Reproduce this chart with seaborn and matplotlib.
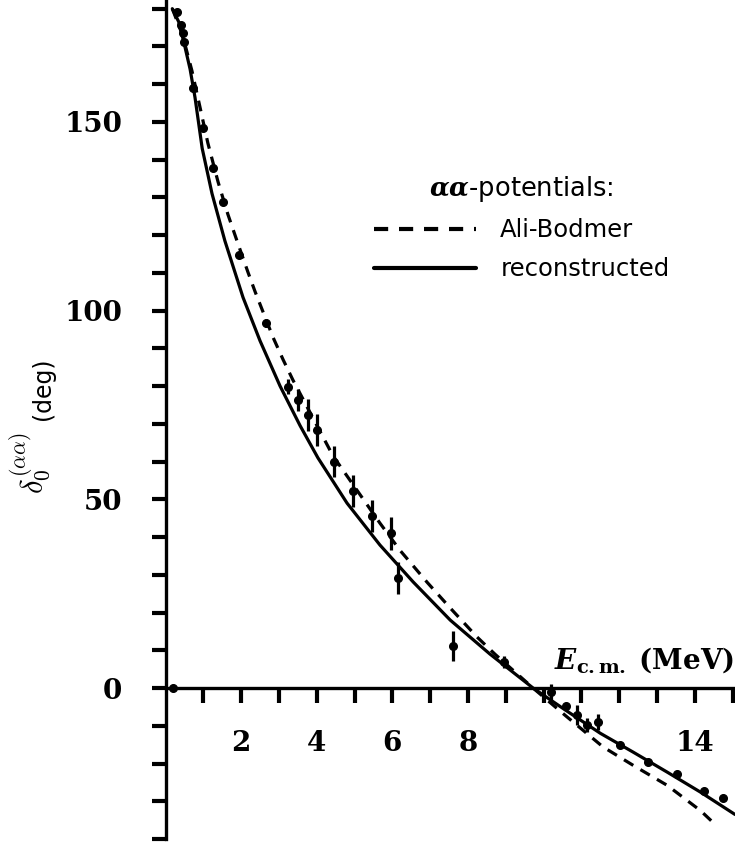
import matplotlib
matplotlib.use("Agg")
import matplotlib.pyplot as plt
import pandas as pd
import seaborn as sns

# Ali-Bodmer phase shift curve (dashed)
AB_E = [0.18, 0.45, 0.70, 0.91, 1.12, 1.39, 1.65, 1.89, 2.18, 2.37, 2.84, 3.11, 3.37,
        4.43, 5.67, 6.20, 6.92, 7.53, 8.24, 8.72, 9.72, 10.60, 11.57, 12.37, 13.27, 14.15, 14.52]
AB_D = [180.0, 173.0, 163.5, 154.0, 144.4, 134.1, 125.5, 118.5, 110.2, 105.0, 93.0, 87.0, 81.6,
        61.5, 43.7, 36.5, 28.0, 21.2, 13.5, 8.9, 0.0, -7.5, -15.6, -20.5, -25.8, -32.5, -36.0]

# reconstructed potential curve (solid)
REC_E = [0.18, 0.35, 0.50, 0.65, 0.78, 0.97, 1.23, 1.57, 2.05, 2.50, 3.03, 3.56, 4.03,
         4.80, 5.67, 6.55, 7.53, 8.58, 9.72, 10.57, 11.50, 12.37, 13.27, 14.15, 15.06]
REC_D = [180.0, 176.5, 170.5, 164.0, 156.5, 143.0, 131.0, 118.5, 103.5, 92.0, 80.0, 69.5, 61.0,
         49.0, 37.9, 28.1, 18.0, 9.0, 0.0, -5.8, -12.0, -17.0, -22.3, -27.6, -33.5]

# experimental points
EXP_E = [0.20, 0.30, 0.42, 0.47, 0.49, 0.73, 0.99, 1.26, 1.52, 1.94, 2.66, 3.24, 3.50, 3.77,
         4.00, 4.46, 4.96, 5.46, 5.97, 6.16, 7.61, 8.95, 10.20, 10.60, 10.89, 11.15, 11.44,
         12.03, 12.76, 13.53, 14.25, 14.75]
EXP_D = [0.0, 179.1, 175.7, 173.6, 171.2, 159.0, 148.4, 137.8, 128.8, 114.7, 96.7, 79.8, 76.3, 72.3,
         68.4, 59.9, 52.2, 45.6, 41.0, 29.1, 11.1, 6.9, -1.0, -4.8, -7.1, -9.8, -9.0,
         -15.1, -19.6, -22.8, -27.3, -29.1]
EXP_ERR = [0, 0, 0, 0, 0, 0, 0, 0, 0, 0, 1.0, 2.0, 3.0, 4.3,
           4.2, 4.1, 4.2, 4.2, 4.4, 4.2, 4.0, 1.5, 2.2, 0, 2.6, 1.8, 2.2,
           0, 0, 0.8, 0, 0]

X_TICKS = list(range(1, 16))
X_LABELS = {2: "2", 4: "4", 6: "6", 8: "8", 14: "14"}
Y_TICKS = list(range(-40, 181, 10))
Y_LABELS = {0: "0", 50: "50", 100: "100", 150: "150"}

sns.set_style("white")
plt.rcParams["font.family"] = ["DejaVu Sans"]
plt.rcParams["text.color"] = "black"
plt.rcParams["xtick.color"] = "black"
plt.rcParams["ytick.color"] = "black"
plt.rcParams["legend.labelcolor"] = "black"
plt.rcParams["mathtext.fontset"] = "custom"
plt.rcParams["mathtext.rm"] = "DejaVu Serif"
plt.rcParams["mathtext.it"] = "DejaVu Serif:italic"
plt.rcParams["mathtext.bf"] = "DejaVu Serif:bold"
plt.rcParams["mathtext.bfit"] = "DejaVu Serif:italic:bold"

curves = pd.concat([
    pd.DataFrame({"E": AB_E, "delta": AB_D, "potential": "Ali-Bodmer"}),
    pd.DataFrame({"E": REC_E, "delta": REC_D, "potential": "reconstructed"}),
], ignore_index=True)

fig = plt.figure(figsize=(7.35, 8.46), dpi=100)
ax = fig.add_axes([165.5 / 735, 1 - 839 / 846, 1 - 165.5 / 735, 839 / 846])

sns.lineplot(data=curves, x="E", y="delta", hue="potential", style="potential",
             palette={"Ali-Bodmer": "black", "reconstructed": "black"},
             dashes={"Ali-Bodmer": (3.4, 2.6), "reconstructed": ""},
             sort=False, estimator=None, linewidth=2.3, ax=ax)

ax.errorbar(EXP_E, EXP_D, yerr=EXP_ERR, fmt="o", color="black", markersize=5.5,
            elinewidth=2.3, capsize=0, zorder=5)

ax.set_xlim(0, 15.06)
ax.set_ylim(-40, 182.3)
for side in ["top", "right"]:
    ax.spines[side].set_visible(False)
ax.spines["left"].set_position(("data", 0))
ax.spines["bottom"].set_position(("data", 0))
for side in ["left", "bottom"]:
    ax.spines[side].set_linewidth(2.4)
    ax.spines[side].set_color("black")

ax.set_xticks(X_TICKS)
ax.set_xticklabels([X_LABELS.get(t, "") for t in X_TICKS],
                   fontfamily="DejaVu Serif", fontweight="bold")
ax.set_yticks(Y_TICKS)
ax.set_yticklabels([Y_LABELS.get(t, "") for t in Y_TICKS],
                   fontfamily="DejaVu Serif", fontweight="bold")
ax.tick_params(axis="x", bottom=True, direction="out", length=11, width=3, pad=19,
               labelsize=20, color="black", labelcolor="black")
ax.tick_params(axis="y", left=True, direction="out", length=10, width=3, pad=21,
               labelsize=20, color="black", labelcolor="black")
ax.set_xlabel("")
ax.set_ylabel("")

fig.text(734 / 735, 1 - 668 / 846, r"$\mathbfit{E}_{\mathbf{c.m.}}\ \mathbf{(MeV)}$",
         ha="right", va="baseline", fontsize=20, color="black")

# y label: math part in Computer Modern, unit in sans
fig.text(30 / 735, 1 - 494 / 846, r"$\delta_0^{(\alpha\alpha)}$", rotation=90,
         ha="center", va="bottom", fontsize=22, math_fontfamily="cm", color="black")
fig.text(43 / 735, 1 - 420 / 846, "(deg)", rotation=90,
         ha="center", va="bottom", fontsize=17, color="black")

handles, labels = ax.get_legend_handles_labels()
leg = ax.legend(handles, labels, title=r"$\mathbfit{\alpha\alpha}$-potentials:", frameon=False,
                loc="upper left", bbox_to_anchor=(352 / 735, 1 - 152 / 846),
                bbox_transform=fig.transFigure, fontsize=17.5, title_fontsize=18.5,
                handlelength=4.2, handletextpad=1.0, labelspacing=0.6)
leg.get_title().set_color("black")
for line in leg.get_lines():
    line.set_linewidth(3)

fig.savefig("out.png", dpi=100)
